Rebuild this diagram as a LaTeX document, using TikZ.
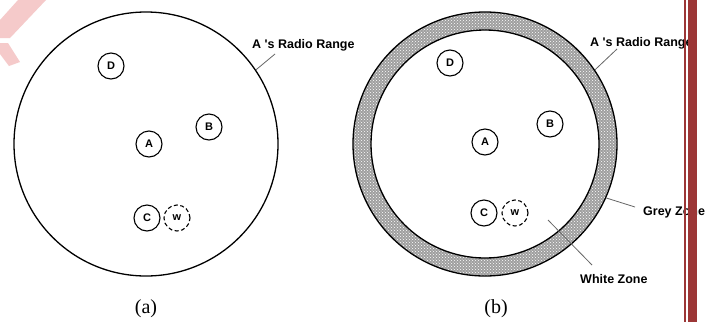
\documentclass[tikz,border=0pt]{standalone}
\usepackage{fontspec}
\setmainfont{Liberation Sans}
\newfontfamily\capfont{Liberation Serif}
\newfontfamily\labfont{Liberation Sans}
\usetikzlibrary{patterns}
\definecolor{barred}{HTML}{9C3636}
\definecolor{wmpink}{HTML}{F5CACA}
\tikzset{
  nd/.style={circle,draw,line width=1.1pt,minimum size=26pt,inner sep=0pt,
    font=\labfont\bfseries\fontsize{11}{11}\selectfont},
  ndw/.style={nd,dashed,dash pattern=on 4pt off 2.5pt},
  radiocirc/.style={circle,draw,line width=1.3pt,inner sep=0pt},
  lbl/.style={font=\labfont\bfseries\fontsize{12.5}{13}\selectfont,inner sep=0pt},
  lead/.style={draw=black!60,line width=0.8pt},
  captxt/.style={font=\capfont\fontsize{20}{20}\selectfont,inner sep=0pt}
}
\begin{document}
\begin{tikzpicture}[x=1pt,y=-1pt]
\useasboundingbox (0,0) rectangle (717,322);
\fill[white] (0,0) rectangle (717,322);
% watermark
\fill[wmpink] (18,0) -- (46,0) -- (10,38) -- (0,38) -- (0,20) -- cycle;
\fill[wmpink] (0,43) -- (8,43) -- (20,62) -- (9,66) -- (0,54) -- cycle;
% ---------- (a)
\node[radiocirc,minimum size=264pt] (R1) at (146,144) {};
\node[nd] (D1) at (111,66) {D};
\node[nd] (B1) at (209,127) {B};
\node[nd] (A1) at (149,144) {A};
\node[nd] (C1) at (147,218) {C};
\node[ndw] (W1) at (177,218) {w};
\node[lbl,anchor=base west] (L1) at (252,48) {A 's Radio Range};
\coordinate (E1) at (275,54);
\draw[lead] (R1.34) -- (E1);
\node[captxt] (CA) at (146,309) {(a)};
% ---------- (b)
\coordinate (O2) at (485,144);
\fill[gray!75,even odd rule] (O2) circle[radius=132] (O2) circle[radius=114];
\fill[pattern=crosshatch dots,pattern color=white,even odd rule] (O2) circle[radius=132] (O2) circle[radius=114];
\node[radiocirc,minimum size=264pt] (R2) at (O2) {};
\node[radiocirc,minimum size=228pt] (I2) at (O2) {};
\node[nd] (D2) at (450,63) {D};
\node[nd] (B2) at (550,124) {B};
\node[nd] (A2) at (485,142) {A};
\node[nd] (C2) at (484,213) {C};
\node[ndw] (W2) at (515,213) {w};
\node[lbl,anchor=base west] (L2) at (590,46) {A 's Radio Range};
\coordinate (E2) at (617,49);
\draw[lead] (R2.34) -- (E2);
\node[lbl,anchor=base west] (G2) at (643,215) {Grey Zone};
\coordinate (EG) at (635,207);
\draw[lead] (R2.-24) -- (EG);
\node[lbl,anchor=base west] (WZ) at (580,283) {White Zone};
\coordinate (WS) at (548,220);
\coordinate (WE) at (592,265);
\draw[lead] (WS) -- (WE);
\node[captxt] (CB) at (496,309) {(b)};
% red bars
\fill[barred] (684,0) rectangle (686,322);
\fill[barred] (688,0) rectangle (697,322);
\end{tikzpicture}
\end{document}
